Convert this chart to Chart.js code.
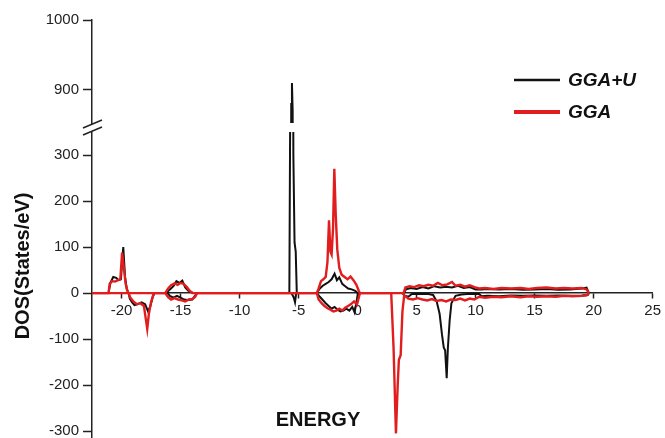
<!DOCTYPE html>
<html>
<head>
<meta charset="utf-8">
<script src="https://cdn.jsdelivr.net/npm/chart.js@4/dist/chart.umd.min.js"></script>
<style>
  html, body { margin: 0; padding: 0; background: #fff; }
  #c { display: block; }
</style>
</head>
<body>
<canvas id="c" width="665" height="438"></canvas>
<script>
// ---- data (energy eV, DOS states/eV) ----
const seriesNames = ['GGA+U', 'GGA'];
const xTicks = [-20, -15, -10, -5, 0, 5, 10, 15, 20, 25];
const yLowerTicks = [-300, -200, -100, 0, 100, 200, 300];
const yUpperTicks = [900, 1000];

const ggaUUp = [[-22.4,0],[-21.1,0],[-20.95,22],[-20.7,35],[-20.45,33],[-20.25,28],[-20.05,30],[-19.85,100],[-19.7,35],[-19.55,8],[-19.4,0],
  [-16.2,0],[-15.9,8],[-15.6,15],[-15.35,26],[-15.1,22],[-14.85,27],[-14.6,12],[-14.35,5],[-14.1,2],[-13.85,0],
  [-5.78,0],[-5.62,880],[-5.56,910],[-5.5,870],[-5.44,300],[-5.34,110],[-5.24,90],[-5.15,0],
  [-3.45,0],[-3.2,10],[-2.95,16],[-2.7,20],[-2.45,24],[-2.2,30],[-1.95,42],[-1.75,28],[-1.55,34],[-1.3,20],[-1.05,15],[-0.8,10],[-0.5,8],[-0.2,5],[0.0,0],
  [3.9,0],[4.1,8],[4.5,11],[5.0,9],[5.5,13],[6.0,10],[6.5,15],[7.0,12],[7.5,14],[8.0,12],[8.5,16],[9.0,11],[9.5,13],[10.0,8],[10.5,8],[11.0,9],[12.0,8],[13.0,9],[14.0,7],[15.0,8],[16.0,9],[17.0,7],[18.0,8],[19.0,10],[19.4,12],[19.6,0]];

const ggaUDown = [[-22.4,0],[-19.4,0],[-19.3,-12],[-19.1,-20],[-18.9,-26],[-18.6,-24],[-18.3,-20],[-18.0,-24],[-17.75,-40],[-17.55,-28],[-17.35,-8],[-17.2,0],
  [-16.1,0],[-15.9,-6],[-15.6,-10],[-15.3,-6],[-15.0,-10],[-14.7,-14],[-14.4,-15],[-14.0,-14],[-13.75,-5],[-13.6,0],
  [-5.6,0],[-5.4,-10],[-5.3,-20],[-5.2,0],
  [-3.45,0],[-3.2,-8],[-2.95,-15],[-2.7,-22],[-2.45,-28],[-2.2,-34],[-1.95,-30],[-1.7,-36],[-1.45,-40],[-1.2,-38],[-0.95,-34],[-0.7,-38],[-0.45,-30],[-0.25,-42],[-0.1,-20],[0.05,0],
  [3.8,0],[4.0,-6],[4.3,-8],[4.6,-2],[5.0,-2],[5.5,-2],[6.0,-2],[6.4,-4],[6.7,-18],[6.95,-45],[7.15,-90],[7.3,-118],[7.42,-125],[7.55,-185],[7.65,-120],[7.8,-60],[7.95,-22],[8.3,-6],[8.8,-3],[9.3,-2],[9.8,-2],[10.3,-2],[10.5,-7],[11,-6],[12,-7],[13,-5],[14,-6],[15,-5],[16,-6],[17,-5],[18,-6],[19,-5],[19.5,-4],[19.6,0]];

const ggaUp = [[-22.5,0],[-21.1,0],[-21.0,20],[-20.8,26],[-20.55,25],[-20.3,28],[-20.1,30],[-19.95,88],[-19.8,55],[-19.65,20],[-19.5,5],[-19.4,0],
  [-16.3,0],[-16.05,10],[-15.8,17],[-15.5,21],[-15.25,18],[-15.0,22],[-14.75,20],[-14.5,14],[-14.25,6],[-14.0,0],
  [-3.45,0],[-3.3,10],[-3.1,26],[-2.9,30],[-2.7,35],[-2.55,68],[-2.42,158],[-2.3,90],[-2.2,84],[-2.08,140],[-1.97,270],[-1.85,170],[-1.72,95],[-1.55,55],[-1.35,40],[-1.1,35],[-0.85,30],[-0.6,36],[-0.35,28],[-0.1,18],[0.1,5],[0.2,0],
  [3.9,0],[4.05,12],[4.4,15],[4.8,13],[5.2,17],[5.6,15],[6.0,18],[6.4,16],[6.8,22],[7.2,17],[7.6,19],[8.0,24],[8.3,16],[8.7,18],[9.1,14],[9.5,17],[9.9,13],[10.3,10],[10.8,11],[11.5,9],[12.2,11],[13,10],[13.8,11],[14.5,9],[15.2,11],[16,12],[16.8,10],[17.5,11],[18.2,10],[19,11],[19.4,8],[19.6,0]];

const ggaDown = [[-22.5,0],[-19.4,0],[-19.25,-10],[-19.0,-18],[-18.7,-24],[-18.4,-22],[-18.1,-28],[-17.95,-55],[-17.82,-78],[-17.68,-45],[-17.5,-20],[-17.3,-3],[-17.2,0],
  [-16.3,0],[-16.05,-9],[-15.8,-14],[-15.5,-11],[-15.2,-14],[-14.9,-16],[-14.6,-18],[-14.3,-14],[-14.0,-13],[-13.75,-8],[-13.6,0],
  [-3.45,0],[-3.3,-14],[-3.05,-22],[-2.8,-28],[-2.55,-33],[-2.3,-36],[-2.05,-40],[-1.8,-38],[-1.55,-34],[-1.3,-38],[-1.05,-32],[-0.8,-28],[-0.55,-24],[-0.3,-18],[-0.05,-25],[0.1,-10],[0.2,0],
  [2.85,0],[3.05,-120],[3.25,-305],[3.4,-200],[3.5,-145],[3.65,-135],[3.8,-40],[3.95,-5],[4.3,-12],[4.7,-14],[5.1,-11],[5.5,-14],[5.9,-16],[6.3,-13],[6.7,-17],[7.1,-15],[7.5,-18],[7.9,-14],[8.3,-15],[8.7,-12],[9.1,-16],[9.5,-12],[9.9,-14],[10.3,-8],[10.8,-10],[11.5,-8],[12.2,-9],[13,-7],[13.8,-9],[14.5,-7],[15.2,-8],[16,-7],[16.8,-8],[17.5,-6],[18.2,-7],[19,-6],[19.4,-5],[19.6,0]];

const BLACK = '#111111';
const RED = '#e11d1d';
const AXIS = '#222222';
const FONT = '"Liberation Sans", Arial, sans-serif';

const toPts = arr => arr.map(p => ({x: p[0], y: p[1]}));

function lineDs(label, arr, color, width, axis, order) {
  return { label, data: toPts(arr), borderColor: color, backgroundColor: color, borderWidth: width,
    pointRadius: 0, tension: 0, fill: false, yAxisID: axis, order: order };
}

const datasets = [
  lineDs(seriesNames[1], ggaUp, RED, 2.4, 'y', 0),
  lineDs(seriesNames[1], ggaDown, RED, 2.4, 'y', 0),
  lineDs(seriesNames[0], ggaUUp, BLACK, 2, 'y', 1),
  lineDs(seriesNames[0], ggaUDown, BLACK, 2, 'y', 1),
  lineDs(seriesNames[0], ggaUUp, BLACK, 2, 'yTop', 1)
];

function fixY(scale) { scale.width = 92; scale.paddingTop = 0; scale.paddingBottom = 0; }
const plainLabel = v => String(v);

const decor = {
  id: 'decor',
  afterDraw(chart) {
    const ctx = chart.ctx;
    const yl = chart.scales.y;
    const bx = yl.right, by = yl.top;
    ctx.save();
    // gap in the plot at the axis break
    ctx.fillStyle = '#fff';
    ctx.fillRect(bx + 2, by - 4, chart.chartArea.right - bx - 2, 9);
    // gap on the axis between the slashes
    ctx.beginPath();
    ctx.moveTo(bx - 9, by + 8); ctx.lineTo(bx + 10, by);
    ctx.lineTo(bx + 10, by - 7); ctx.lineTo(bx - 9, by + 1);
    ctx.closePath(); ctx.fill();
    ctx.strokeStyle = AXIS; ctx.lineWidth = 1.5;
    ctx.beginPath();
    ctx.moveTo(bx - 9, by + 8); ctx.lineTo(bx + 10, by);
    ctx.moveTo(bx - 9, by + 1); ctx.lineTo(bx + 10, by - 7);
    ctx.stroke();
    // axis titles
    ctx.fillStyle = '#111';
    ctx.font = 'bold 20px ' + FONT;
    ctx.textAlign = 'center'; ctx.textBaseline = 'middle';
    ctx.fillText('ENERGY', 318, 420);
    ctx.save();
    ctx.translate(23, 266); ctx.rotate(-Math.PI / 2);
    ctx.fillText('DOS(States/eV)', 0, 0);
    ctx.restore();
    // legend
    const items = [[seriesNames[0], BLACK, 2.5, 80], [seriesNames[1], RED, 4, 112]];
    ctx.font = 'italic bold 19px ' + FONT;
    ctx.textAlign = 'left';
    items.forEach(([t, c, w, y]) => {
      ctx.strokeStyle = c; ctx.lineWidth = w;
      ctx.beginPath(); ctx.moveTo(514, y); ctx.lineTo(560, y); ctx.stroke();
      ctx.fillStyle = '#111'; ctx.fillText(t, 568, y + 1);
    });
    ctx.restore();
  }
};

const tickFont = { family: FONT, size: 15 };

new Chart(document.getElementById('c'), {
  type: 'line',
  data: { datasets },
  options: {
    responsive: false,
    animation: false,
    devicePixelRatio: 1,
    layout: { padding: { top: 20, right: 7, bottom: 0, left: 0 } },
    plugins: { legend: { display: false }, tooltip: { enabled: false } },
    scales: {
      x: {
        type: 'linear', min: -22.5, max: 25,
        position: { y: 0 },
        afterBuildTicks: s => { s.ticks = xTicks.map(v => ({ value: v })); },
        grid: { drawOnChartArea: false, drawTicks: true, tickLength: 5, tickColor: AXIS, tickWidth: 1.5 },
        border: { display: true, color: AXIS, width: 1.5 },
        ticks: { color: '#222', font: tickFont, padding: 4, maxRotation: 0, callback: plainLabel }
      },
      y: {
        type: 'linear', min: -315, max: 361, position: 'left', stack: 'dos', stackWeight: 311,
        afterBuildTicks: s => { s.ticks = yLowerTicks.map(v => ({ value: v })); },
        afterFit: fixY,
        grid: { drawOnChartArea: false, drawTicks: true, tickLength: 9, tickColor: AXIS, tickWidth: 1.5 },
        border: { display: true, color: AXIS, width: 1.5 },
        ticks: { color: '#222', font: tickFont, padding: 4, callback: plainLabel }
      },
      yTop: {
        type: 'linear', min: 847, max: 1000, position: 'left', stack: 'dos', stackWeight: 107,
        afterBuildTicks: s => { s.ticks = yUpperTicks.map(v => ({ value: v })); },
        afterFit: fixY,
        grid: { drawOnChartArea: false, drawTicks: true, tickLength: 9, tickColor: AXIS, tickWidth: 1.5 },
        border: { display: true, color: AXIS, width: 1.5 },
        ticks: { color: '#222', font: tickFont, padding: 4, callback: plainLabel }
      }
    }
  },
  plugins: [decor]
});
</script>
</body>
</html>
